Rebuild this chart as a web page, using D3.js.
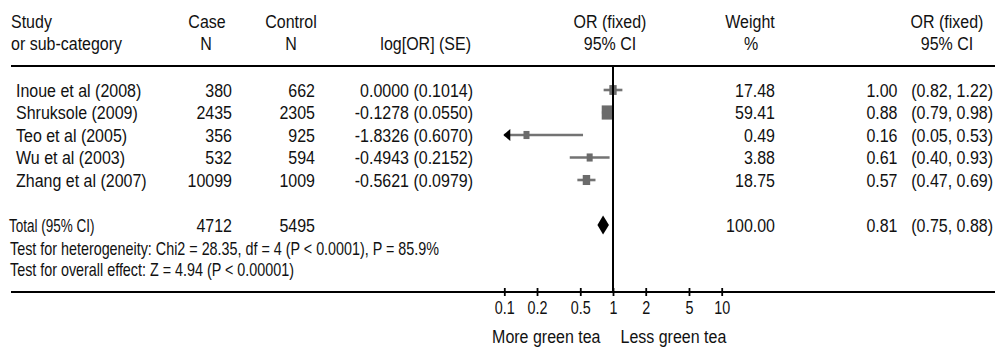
<!DOCTYPE html>
<html>
<head>
<meta charset="utf-8">
<script src="https://cdn.jsdelivr.net/npm/d3@7"></script>
<style>
  html, body { margin: 0; padding: 0; background: #fff; }
  svg text { font-family: "Liberation Sans", Arial, Helvetica, sans-serif; fill: #111; }
</style>
</head>
<body>
<svg id="chart" width="997" height="347"></svg>
<script>
// Studies in the fixed-effect meta-analysis
const studies   = ["Inoue et al (2008)", "Shruksole (2009)", "Teo et al (2005)", "Wu et al (2003)", "Zhang et al (2007)"];
const caseN     = [380, 2435, 356, 532, 10099];
const controlN  = [662, 2305, 925, 594, 1009];
const logOR     = [0.0000, -0.1278, -1.8326, -0.4943, -0.5621];
const seLogOR   = [0.1014, 0.0550, 0.6070, 0.2152, 0.0979];
const weights   = [17.48, 59.41, 0.49, 3.88, 18.75];
const orFixed   = [1.00, 0.88, 0.16, 0.61, 0.57];
const ciLower   = [0.82, 0.79, 0.05, 0.40, 0.47];
const ciUpper   = [1.22, 0.98, 0.53, 0.93, 0.69];

// Pooled estimate
const totalCase    = 4712;
const totalControl = 5495;
const totalWeight  = 100.00;
const totalOR      = 0.81;
const totalLower   = 0.75;
const totalUpper   = 0.88;

const axisTicks = [0.1, 0.2, 0.5, 1, 2, 5, 10];
const heterogeneityText = "Test for heterogeneity: Chi2 = 28.35, df = 4 (P < 0.0001), P = 85.9%";
const overallText = "Test for overall effect: Z = 4.94 (P < 0.00001)";

const svg = d3.select("#chart");

const x = d3.scaleLog().domain([0.1, 10]).range([504.3, 721.7]);
const y = d3.scalePoint().domain(studies).range([90, 180]);
const totalY = 225;
const topRuleY = 66, axisY = 292;
const size = d3.scaleSqrt().domain([0, 59.41]).range([3.5, 10.5]);

const FS = 18.5;
// text helper: condensed look via horizontal scaling around the anchor
function txt(px, py, s, anchor = "start", sx = 0.865, fs = FS) {
  return svg.append("text")
    .attr("transform", `translate(${px},${py}) scale(${sx},1)`)
    .attr("text-anchor", anchor)
    .attr("font-size", fs)
    .text(s);
}

// Header
txt(11, 27.5, "Study");
txt(11, 49.5, "or sub-category");
txt(207, 27.5, "Case", "middle");
txt(206, 49.5, "N", "middle");
txt(291, 27.5, "Control", "middle");
txt(291, 49.5, "N", "middle");
txt(471, 49.5, "log[OR] (SE)", "end");
txt(610, 27.5, "OR (fixed)", "middle");
txt(610, 49.5, "95% CI", "middle");
txt(750, 27.5, "Weight", "middle");
txt(751, 49.5, "%", "middle");
txt(947, 27.5, "OR (fixed)", "middle");
txt(947, 49.5, "95% CI", "middle");

// Rules
svg.append("line").attr("x1", 11).attr("x2", 995).attr("y1", topRuleY).attr("y2", topRuleY)
  .attr("stroke", "#000").attr("stroke-width", 2);
svg.append("line").attr("x1", 11).attr("x2", 995).attr("y1", axisY).attr("y2", axisY)
  .attr("stroke", "#000").attr("stroke-width", 2);

// Study rows
studies.forEach((s, i) => {
  const by = y(s) + 6.5;
  txt(16, by, s);
  txt(232, by, String(caseN[i]), "end");
  txt(315, by, String(controlN[i]), "end");
  txt(473, by, `${logOR[i].toFixed(4)} (${seLogOR[i].toFixed(4)})`, "end");
  txt(775, by, weights[i].toFixed(2), "end");
  txt(897.5, by, orFixed[i].toFixed(2), "end");
  txt(993, by, `(${ciLower[i].toFixed(2)}, ${ciUpper[i].toFixed(2)})`, "end");
});

// Confidence intervals
const ciG = svg.append("g");
studies.forEach((s, i) => {
  const cy = y(s);
  const lo = Math.max(ciLower[i], 0.1), hi = Math.min(ciUpper[i], 10);
  ciG.append("line")
    .attr("x1", x(lo)).attr("x2", x(hi)).attr("y1", cy).attr("y2", cy)
    .attr("stroke", "#737373").attr("stroke-width", 2.6);
  if (ciLower[i] < 0.1) {
    const tip = x(0.1) - 1;
    ciG.append("path")
      .attr("d", `M${tip},${cy} L${tip + 7},${cy - 6} L${tip + 7},${cy + 6} Z`)
      .attr("fill", "#000");
  }
  const w = Math.max(6, size(weights[i]));
  const h = w * 1.35;
  ciG.append("rect")
    .attr("x", x(orFixed[i]) - w / 2).attr("y", cy - h / 2)
    .attr("width", w).attr("height", h)
    .attr("fill", "#6b6b6b");
});

// Total row
txt(9, 231.5, "Total (95% CI)", "start", 0.73);
txt(232, 232, String(totalCase), "end");
txt(315, 232, String(totalControl), "end");
txt(775, 232, totalWeight.toFixed(2), "end");
txt(897.5, 232, totalOR.toFixed(2), "end");
txt(993, 232, `(${totalLower.toFixed(2)}, ${totalUpper.toFixed(2)})`, "end");
svg.append("path")
  .attr("d", `M${x(totalLower) - 2},${totalY} L${x(totalOR)},${totalY - 9.5} L${x(totalUpper) + 2},${totalY} L${x(totalOR)},${totalY + 9.5} Z`)
  .attr("fill", "#000");

// Footnotes
txt(10, 254.5, heterogeneityText, "start", 0.775);
txt(10, 275.5, overallText, "start", 0.775);

// Line of no effect
svg.append("line").attr("x1", x(1)).attr("x2", x(1)).attr("y1", topRuleY).attr("y2", axisY)
  .attr("stroke", "#000").attr("stroke-width", 2);

// Log axis
const axis = d3.axisBottom(x).tickValues(axisTicks).tickFormat(d3.format("~g")).tickSize(4);
const ag = svg.append("g").attr("transform", `translate(0,${axisY})`).call(axis);
ag.select(".domain").remove();
ag.selectAll(".tick line").attr("y1", -4).attr("y2", 4).attr("stroke", "#000").attr("stroke-width", 1.8);
ag.selectAll(".tick text")
  .attr("y", null).attr("dy", null)
  .attr("font-size", 17.5)
  .attr("font-family", "Liberation Sans, Arial, sans-serif")
  .attr("fill", "#111")
  .attr("transform", "translate(0,22) scale(0.82,1)");

// Direction labels
txt(x(1) - 12.5, 343, "More green tea", "end");
txt(x(1) + 7.5, 343, "Less green tea", "start");
</script>
</body>
</html>
